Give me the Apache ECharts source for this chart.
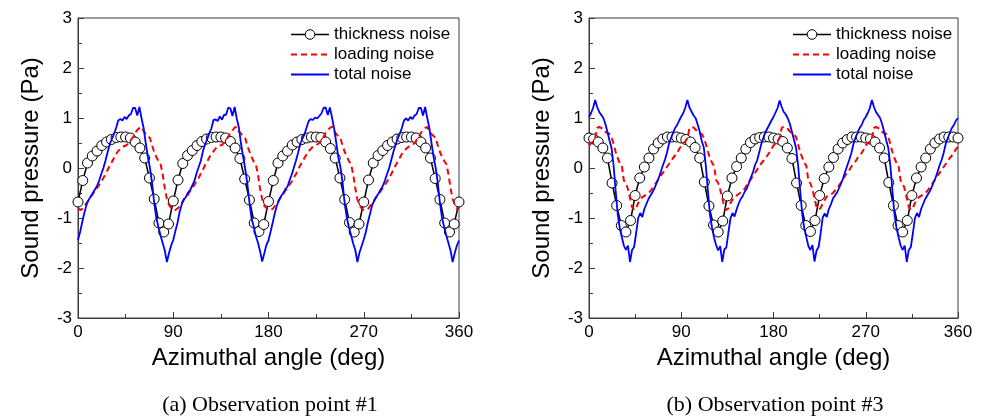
<!DOCTYPE html>
<html>
<head>
<meta charset="utf-8">
<script src="https://cdn.jsdelivr.net/npm/echarts@6/dist/echarts.min.js"></script>
<style>
html,body{margin:0;padding:0;background:#fff;}
#chart{width:983px;height:420px;}
</style>
</head>
<body>
<div id="chart"></div>
<script>
// ---- Data ----
const seriesNames = ['thickness noise', 'loading noise', 'total noise'];
const captions = ['(a) Observation point #1', '(b) Observation point #3'];
const xAxisTitle = 'Azimuthal angle (deg)';
const yAxisTitle = 'Sound pressure (Pa)';
const xTicks = [0, 90, 180, 270, 360];
const yTicks = [-3, -2, -1, 0, 1, 2, 3];

// sample spacing in degrees
const fineStep = 2;     // loading / total noise samples
const markerStep = 4.5; // thickness noise samples (circle markers)

// Observation point #1
const p1Thickness = [
-0.68,-0.25,0.1,0.24,0.34,0.45,0.52,0.57,0.61,0.62,0.62,0.6,0.52,0.4,0.2,-0.2,-0.62,-1.1,-1.28,-1.12,
-0.66,-0.24,0.09,0.25,0.35,0.45,0.53,0.58,0.61,0.62,0.62,0.6,0.53,0.4,0.19,-0.22,-0.64,-1.1,-1.27,-1.13,
-0.67,-0.25,0.1,0.24,0.34,0.46,0.52,0.57,0.6,0.62,0.62,0.61,0.52,0.39,0.2,-0.2,-0.63,-1.09,-1.28,-1.12,
-0.68,-0.24,0.1,0.25,0.35,0.45,0.52,0.58,0.61,0.62,0.62,0.6,0.52,0.4,0.2,-0.21,-0.63,-1.1,-1.28,-1.12,
-0.68];
const p1Loading = [
-0.8,-0.84,-0.82,-0.76,-0.7,-0.64,-0.58,-0.52,-0.46,-0.4,-0.34,-0.27,-0.2,-0.12,-0.04,0.05,0.12,0.2,0.28,0.34,0.38,0.42,0.44,0.46,0.5,0.56,0.62,0.7,0.76,0.8,0.82,0.74,0.68,0.64,0.6,0.45,0.32,0.22,0.14,0.08,-0.12,-0.4,-0.62,-0.74,-0.8,
-0.84,-0.84,-0.81,-0.77,-0.7,-0.63,-0.58,-0.53,-0.46,-0.39,-0.34,-0.26,-0.2,-0.11,-0.04,0.06,0.12,0.21,0.28,0.33,0.39,0.42,0.45,0.46,0.51,0.56,0.63,0.7,0.75,0.81,0.82,0.73,0.69,0.63,0.6,0.44,0.33,0.22,0.13,0.08,-0.13,-0.41,-0.62,-0.75,-0.8,
-0.84,-0.83,-0.82,-0.76,-0.71,-0.64,-0.57,-0.52,-0.45,-0.4,-0.33,-0.27,-0.19,-0.12,-0.03,0.05,0.13,0.2,0.27,0.34,0.38,0.43,0.44,0.47,0.5,0.57,0.62,0.71,0.76,0.8,0.83,0.74,0.68,0.64,0.59,0.45,0.32,0.23,0.14,0.07,-0.12,-0.4,-0.63,-0.74,-0.81,
-0.84,-0.84,-0.82,-0.76,-0.7,-0.64,-0.58,-0.52,-0.46,-0.4,-0.34,-0.27,-0.2,-0.12,-0.04,0.05,0.12,0.2,0.28,0.34,0.38,0.42,0.44,0.46,0.5,0.56,0.62,0.7,0.76,0.8,0.82,0.74,0.68,0.64,0.6,0.45,0.32,0.22,0.14,0.08,-0.12,-0.4,-0.62,-0.74,-0.8,
-0.82];
const p1Total = [
-1.44,-1.28,-1.08,-0.9,-0.74,-0.64,-0.57,-0.5,-0.43,-0.36,-0.25,-0.12,0.0,0.15,0.32,0.48,0.58,0.68,0.8,0.95,0.98,0.95,1.02,0.98,1.05,1.08,1.2,1.2,1.05,1.22,1.0,0.8,0.5,0.22,0.0,-0.3,-0.7,-1.0,-1.18,-1.35,-1.5,-1.65,-1.88,-1.7,-1.55,
-1.44,-1.26,-1.1,-0.88,-0.73,-0.63,-0.58,-0.49,-0.44,-0.35,-0.26,-0.11,0.02,0.14,0.33,0.47,0.57,0.69,0.79,0.96,0.97,0.94,1.03,0.97,1.06,1.07,1.21,1.19,1.04,1.22,0.99,0.81,0.49,0.23,-0.02,-0.31,-0.69,-1.01,-1.17,-1.36,-1.49,-1.66,-1.87,-1.71,-1.54,
-1.45,-1.27,-1.09,-0.9,-0.75,-0.64,-0.56,-0.5,-0.42,-0.37,-0.24,-0.13,0.01,0.15,0.31,0.48,0.59,0.67,0.81,0.94,0.98,0.96,1.01,0.99,1.04,1.09,1.2,1.21,1.06,1.21,1.01,0.79,0.51,0.21,0.01,-0.29,-0.71,-0.99,-1.19,-1.34,-1.51,-1.64,-1.88,-1.69,-1.56,
-1.43,-1.28,-1.08,-0.91,-0.74,-0.65,-0.57,-0.51,-0.43,-0.36,-0.25,-0.12,0.0,0.16,0.32,0.47,0.58,0.68,0.8,0.95,0.99,0.95,1.02,0.98,1.05,1.08,1.2,1.2,1.05,1.22,1.0,0.8,0.5,0.22,0.0,-0.3,-0.7,-1.0,-1.18,-1.35,-1.5,-1.65,-1.88,-1.7,-1.55,
-1.45];

// Observation point #3
const p3Thickness = [
0.6,0.58,0.52,0.4,0.2,-0.3,-0.75,-1.15,-1.28,-1.05,-0.55,-0.2,0.02,0.2,0.38,0.5,0.58,0.62,0.62,0.62,
0.6,0.57,0.52,0.41,0.2,-0.28,-0.76,-1.14,-1.28,-1.06,-0.56,-0.2,0.03,0.2,0.38,0.51,0.58,0.61,0.62,0.62,
0.6,0.58,0.53,0.4,0.19,-0.3,-0.75,-1.15,-1.27,-1.05,-0.55,-0.21,0.02,0.21,0.38,0.5,0.57,0.62,0.62,0.62,
0.6,0.58,0.52,0.4,0.2,-0.29,-0.75,-1.15,-1.28,-1.05,-0.55,-0.2,0.02,0.2,0.38,0.5,0.58,0.62,0.62,0.62,
0.6];
const p3Loading = [
0.45,0.5,0.52,0.6,0.8,0.82,0.8,0.78,0.72,0.7,0.68,0.62,0.48,0.32,0.2,0.1,0.05,-0.25,-0.3,-0.42,-0.6,-0.78,-0.84,-0.8,-0.7,-0.64,-0.58,-0.56,-0.52,-0.5,-0.46,-0.4,-0.34,-0.28,-0.22,-0.15,-0.1,-0.04,0.02,0.08,0.14,0.2,0.25,0.3,0.38,
0.44,0.5,0.53,0.6,0.79,0.82,0.81,0.77,0.72,0.69,0.68,0.61,0.48,0.33,0.2,0.11,0.04,-0.24,-0.3,-0.43,-0.6,-0.77,-0.84,-0.81,-0.7,-0.63,-0.58,-0.55,-0.52,-0.49,-0.46,-0.41,-0.34,-0.27,-0.22,-0.16,-0.1,-0.03,0.02,0.09,0.14,0.19,0.25,0.31,0.38,
0.45,0.49,0.52,0.61,0.8,0.83,0.8,0.78,0.73,0.7,0.67,0.62,0.47,0.32,0.21,0.1,0.05,-0.25,-0.31,-0.42,-0.61,-0.78,-0.83,-0.8,-0.71,-0.64,-0.57,-0.56,-0.53,-0.5,-0.45,-0.4,-0.35,-0.28,-0.21,-0.15,-0.09,-0.04,0.03,0.08,0.13,0.2,0.26,0.3,0.37,
0.45,0.5,0.52,0.6,0.8,0.82,0.8,0.78,0.72,0.7,0.68,0.62,0.48,0.32,0.2,0.1,0.05,-0.25,-0.3,-0.42,-0.6,-0.78,-0.84,-0.8,-0.7,-0.64,-0.58,-0.56,-0.52,-0.5,-0.46,-0.4,-0.34,-0.28,-0.22,-0.15,-0.1,-0.04,0.02,0.08,0.14,0.2,0.25,0.3,0.38,
0.42];
const p3Total = [
1.02,1.1,1.2,1.36,1.22,1.12,1.06,1.0,0.88,0.72,0.55,0.4,0.05,-0.45,-0.92,-1.2,-1.38,-1.55,-1.64,-1.55,-1.88,-1.64,-1.58,-1.3,-1.0,-0.9,-0.98,-0.82,-0.72,-0.62,-0.55,-0.48,-0.4,-0.3,-0.2,-0.08,0.05,0.16,0.3,0.48,0.6,0.7,0.8,0.86,0.95,
1.03,1.1,1.21,1.36,1.21,1.13,1.05,1.0,0.87,0.73,0.54,0.41,0.04,-0.46,-0.93,-1.19,-1.39,-1.54,-1.65,-1.56,-1.88,-1.63,-1.59,-1.29,-1.01,-0.9,-0.97,-0.83,-0.71,-0.62,-0.56,-0.47,-0.41,-0.3,-0.19,-0.08,0.06,0.15,0.31,0.47,0.6,0.71,0.79,0.87,0.95,
1.02,1.11,1.2,1.35,1.22,1.12,1.07,0.99,0.88,0.72,0.56,0.4,0.06,-0.44,-0.92,-1.21,-1.38,-1.56,-1.64,-1.54,-1.87,-1.65,-1.58,-1.31,-0.99,-0.91,-0.98,-0.82,-0.73,-0.61,-0.55,-0.49,-0.4,-0.31,-0.2,-0.07,0.05,0.17,0.3,0.48,0.61,0.7,0.8,0.86,0.96,
1.02,1.1,1.2,1.36,1.22,1.12,1.06,1.0,0.88,0.72,0.55,0.4,0.05,-0.45,-0.92,-1.2,-1.38,-1.55,-1.64,-1.55,-1.88,-1.64,-1.58,-1.3,-1.0,-0.9,-0.98,-0.82,-0.72,-0.62,-0.55,-0.48,-0.4,-0.3,-0.2,-0.08,0.05,0.16,0.3,0.48,0.6,0.7,0.8,0.86,0.95,
1.0];

// ---- Chart ----
const chart = echarts.init(document.getElementById('chart'), null, {renderer: 'canvas'});
const sansFont = '"Liberation Sans", Arial, sans-serif';
const serifFont = '"Liberation Serif", "Times New Roman", serif';
const axisColor = '#3c3c3c';

const panels = [
  {left: 78, width: 381, legendLeft: 290, center: 270, thick: p1Thickness, load: p1Loading, total: p1Total, caption: captions[0]},
  {left: 589, width: 369, legendLeft: 792, center: 775, thick: p3Thickness, load: p3Loading, total: p3Total, caption: captions[1]}
];

function toPairs(values, step) {
  return values.map((v, i) => [i * step, v]);
}

const legendItems = [
  {name: seriesNames[0], itemStyle: {color: '#fff', borderColor: '#000', borderWidth: 1}, lineStyle: {color: '#000', width: 1.5}},
  {name: seriesNames[1], itemStyle: {opacity: 0}, lineStyle: {color: '#ff0000', width: 2, type: [6, 4]}},
  {name: seriesNames[2], itemStyle: {opacity: 0}, lineStyle: {color: '#0000ff', width: 1.8}}
];

const option = {
  animation: false,
  backgroundColor: '#fff',
  grid: panels.map(p => ({left: p.left, top: 18, width: p.width, height: 300, show: true, borderColor: axisColor, borderWidth: 1, backgroundColor: 'transparent'})),
  xAxis: panels.map((p, i) => ({
    gridIndex: i, type: 'value', min: xTicks[0], max: xTicks[xTicks.length - 1], interval: 90,
    axisLine: {show: true, onZero: false, lineStyle: {color: axisColor, width: 1}},
    axisTick: {show: true, inside: true, length: 6, lineStyle: {color: axisColor}},
    minorTick: {show: true, splitNumber: 2, length: 4, lineStyle: {color: axisColor}},
    splitLine: {show: false},
    axisLabel: {fontSize: 17, color: '#000', fontFamily: sansFont, margin: 6},
    name: xAxisTitle, nameLocation: 'middle', nameGap: 27,
    nameTextStyle: {fontSize: 24, color: '#000', fontFamily: sansFont}
  })),
  yAxis: panels.map((p, i) => ({
    gridIndex: i, type: 'value', min: yTicks[0], max: yTicks[yTicks.length - 1], interval: 1,
    axisLine: {show: true, onZero: false, lineStyle: {color: axisColor, width: 1}},
    axisTick: {show: true, inside: true, length: 6, lineStyle: {color: axisColor}},
    minorTick: {show: true, splitNumber: 2, length: 4, lineStyle: {color: axisColor}},
    splitLine: {show: false},
    axisLabel: {fontSize: 17, color: '#000', fontFamily: sansFont, margin: 6},
    name: yAxisTitle, nameLocation: 'middle', nameGap: 35, nameRotate: 90,
    nameTextStyle: {fontSize: 24, color: '#000', fontFamily: sansFont}
  })),
  legend: panels.map(p => ({
    left: p.legendLeft, top: 26, padding: 0, orient: 'vertical', itemWidth: 38, itemHeight: 12, itemGap: 3,
    textStyle: {fontSize: 17, color: '#000', fontFamily: sansFont, lineHeight: 17},
    data: legendItems, selectedMode: false
  })),
  series: [],
  graphic: panels.map(p => ({
    type: 'text', x: p.center, y: 405,
    style: {text: p.caption, fontSize: 22, fontFamily: serifFont, fill: '#000', align: 'center', verticalAlign: 'middle'}
  }))
};

panels.forEach((p, i) => {
  option.series.push({
    name: seriesNames[0], type: 'line', xAxisIndex: i, yAxisIndex: i,
    data: toPairs(p.thick, markerStep), symbol: 'circle', symbolSize: 10, showAllSymbol: true,
    itemStyle: {color: '#fff', borderColor: '#000', borderWidth: 1},
    lineStyle: {color: '#000', width: 1.5}, emphasis: {disabled: true}, silent: true, z: 2
  });
  option.series.push({
    name: seriesNames[1], type: 'line', xAxisIndex: i, yAxisIndex: i,
    data: toPairs(p.load, fineStep), symbol: 'none',
    itemStyle: {color: '#ff0000'},
    lineStyle: {color: '#ff0000', width: 2, type: [6, 4]}, emphasis: {disabled: true}, silent: true, z: 3
  });
  option.series.push({
    name: seriesNames[2], type: 'line', xAxisIndex: i, yAxisIndex: i,
    data: toPairs(p.total, fineStep), symbol: 'none',
    itemStyle: {color: '#0000ff'},
    lineStyle: {color: '#0000ff', width: 1.8}, emphasis: {disabled: true}, silent: true, z: 4
  });
});

chart.setOption(option);
</script>
</body>
</html>
